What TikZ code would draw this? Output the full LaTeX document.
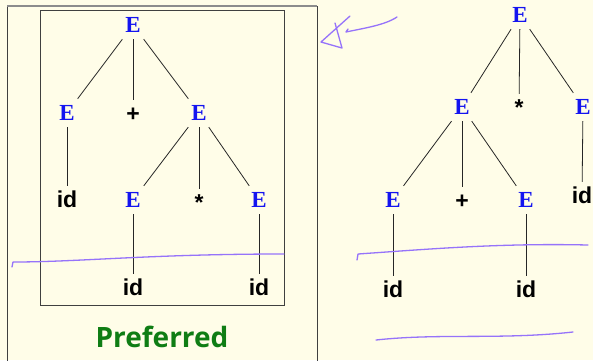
\documentclass[tikz,border=0pt]{standalone}
\usepackage{fontspec}
\setmainfont{Liberation Serif}
\newfontfamily\termfont{Liberation Sans}
\newfontfamily\capfont{Open Sans}
\usetikzlibrary{positioning}
\definecolor{papercolor}  {RGB}{255, 253, 232}
\definecolor{ntcolor}     {RGB}{ 20,  20, 240}
\definecolor{inkcolor}    {RGB}{150, 115, 250}
\definecolor{prefcolor}   {RGB}{ 15, 125,  20}
\tikzset{
	treenode/.style={
		inner sep=0pt, minimum width=28pt, minimum height=28pt,
		text height=15pt, text depth=0pt
	},
	nonterm/.style={
		treenode, font=\fontsize{23}{23}\selectfont\bfseries, text=ntcolor
	},
	term/.style={
		treenode, font=\termfont\fontsize{23}{23}\selectfont\bfseries, text=black
	},
	treeedge/.style={
		line width=0.8pt, color=black!85
	},
	framebox/.style={
		draw=black!75, line width=1pt
	},
	ink/.style={
		draw=inkcolor, line width=1.3pt, line cap=round, line join=round
	}
}
\begin{document}
\begin{tikzpicture}[x=1pt, y=-1pt]
	
	%% ═══════════════════════════════
	%%  PAGE + FRAMES
	%% ═══════════════════════════════
	\fill[papercolor] (0,0) rectangle (593,360);
	\useasboundingbox (0,0) rectangle (593,360);
	\draw[framebox] (7,362) -- (7,6) -- (317,6) -- (317,362);
	\draw[black!45, line width=1.5pt] (7,6) -- (317,6);
	\draw[framebox] (40,10) rectangle (284,305);
	
	%% ═══════════════════════════════
	%%  LEFT TREE — E + (E * E)
	%% ═══════════════════════════════
	\node[nonterm] (lroot) at (133,25)  {E};
	
	\node[nonterm] (lE1)   at (67,113)  {E};
	\node[term]    (lplus) at (133,114) {+};
	\node[nonterm] (lE2)   at (199,113) {E};
	
	\node[term]    (lid1)  at (67,200)  {id};
	\node[nonterm] (lE3)   at (133,200) {E};
	\node[term]    (lstar) at (199,203) {*};
	\node[nonterm] (lE4)   at (259,200) {E};
	
	\node[term]    (lid2)  at (133,288) {id};
	\node[term]    (lid3)  at (259,288) {id};
	
	\node[font=\capfont\fontsize{28}{28}\selectfont\bfseries, text=prefcolor,
	anchor=base] (pref) at (162,347) {Preferred};
	
	%% ═══════════════════════════════
	%%  RIGHT TREE — (E + E) * E
	%% ═══════════════════════════════
	\node[nonterm] (rroot) at (520,15)  {E};
	
	\node[nonterm] (rE1)   at (462,107) {E};
	\node[term]    (rstar) at (519,108) {*};
	\node[nonterm] (rE2)   at (583,107) {E};
	
	\node[nonterm] (rE3)   at (393,200) {E};
	\node[term]    (rplus) at (462,201) {+};
	\node[nonterm] (rE4)   at (526,200) {E};
	\node[term]    (rid1)  at (582,196) {id};
	
	\node[term]    (rid2)  at (393,290) {id};
	\node[term]    (rid3)  at (526,290) {id};
	
	%% ═══════════════════════════════
	%%  EDGES
	%% ═══════════════════════════════
	
	% left tree
	\draw[treeedge] (lroot) -- (lE1);
	\draw[treeedge] (lroot) -- (lplus);
	\draw[treeedge] (lroot) -- (lE2);
	\draw[treeedge] (lE1)   -- (lid1);
	\draw[treeedge] (lE2)   -- (lE3);
	\draw[treeedge] (lE2)   -- (lstar);
	\draw[treeedge] (lE2)   -- (lE4);
	\draw[treeedge] (lE3)   -- (lid2);
	\draw[treeedge] (lE4)   -- (lid3);
	
	% right tree
	\draw[treeedge] (rroot) -- (rE1);
	\draw[treeedge] (rroot) -- (rstar);
	\draw[treeedge] (rroot) -- (rE2);
	\draw[treeedge] (rE1)   -- (rE3);
	\draw[treeedge] (rE1)   -- (rplus);
	\draw[treeedge] (rE1)   -- (rE4);
	\draw[treeedge] (rE2)   -- (rid1);
	\draw[treeedge] (rE3)   -- (rid2);
	\draw[treeedge] (rE4)   -- (rid3);
	
	%% ═══════════════════════════════
	%%  HAND-DRAWN MARKS
	%% ═══════════════════════════════
	
	% arrow pointing at the preferred tree
	\draw[ink] (397,17) .. controls (385,25) and (365,28) .. (346,32) -- (348,29);
	\draw[ink] (350,16) -- (321,42) -- (342,48) -- (335,23);
	
	% cut lines
	\draw[ink] (12,267) -- (13,262) .. controls (80,262) and (150,254) .. (284,254);
	\draw[ink] (357,260) -- (358,254) .. controls (430,249) and (500,243) .. (588,245);
	\draw[ink] (376,340) .. controls (440,333) and (500,340) .. (573,332);
	
\end{tikzpicture}
\end{document}
